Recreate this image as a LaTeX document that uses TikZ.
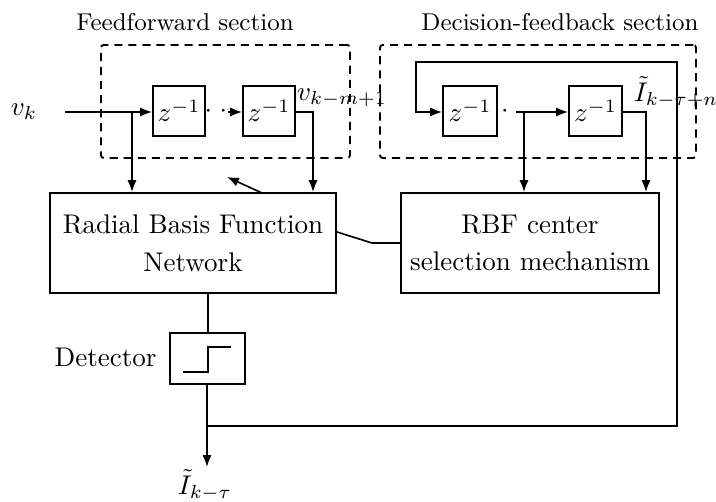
\documentclass[tikz,border=0pt]{standalone}
\usepackage{fontspec}
\usetikzlibrary{arrows.meta}
\newcommand\pxu{0.37pt}
\begin{document}
\begin{tikzpicture}[x=0.37pt,y=-0.37pt,
  blk/.style={draw,line width=0.7pt,inner sep=0pt,align=center},
  zbox/.style={blk,minimum width={52*\pxu},minimum height={50*\pxu}},
  sect/.style={draw,dashed,line width=0.7pt,dash pattern=on 3pt off 2.2pt,rounded corners=1pt,inner sep=0pt},
  conn/.style={line width=0.6pt},
  arr/.style={conn,-{Latex[length=4.4pt,width=3.4pt]}},
  lbl/.style={inner sep=0pt}]
\useasboundingbox (0,0) rectangle (716,502);
% titles
\node[lbl,font=\small] (t1) at (185,22) {Feedforward section};
\node[lbl,font=\small] (t2) at (560,22) {Decision-feedback section};
% dashed sections
\node[sect,minimum width={249*\pxu},minimum height={113*\pxu}] (ff) at (225.5,101.5) {};
\node[sect,minimum width={316*\pxu},minimum height={113*\pxu}] (df) at (538,101.5) {};
% delay boxes
\node[zbox] (z1) at (179,111) {$z^{-1}$};
\node[zbox] (z2) at (269,111) {$z^{-1}$};
\node[zbox,minimum width={54*\pxu}] (z3) at (470,111) {$z^{-1}$};
\node[zbox,minimum width={53*\pxu}] (z4) at (595.5,111) {$z^{-1}$};
% main blocks
\node[blk,minimum width={286*\pxu},minimum height={100*\pxu}] (rbf) at (193,243) {Radial Basis Function\\[2pt]Network};
\node[blk,minimum width={258*\pxu},minimum height={100*\pxu}] (sel) at (530,243) {RBF center\\[2pt]selection mechanism};
\node[blk,minimum width={75*\pxu},minimum height={51*\pxu}] (det) at (207.5,358.5) {};
\draw[conn] (183,372) -- (208,372) -- (208,347) -- (231,347);
\node[lbl,anchor=east] (detl) at (157,357) {Detector};
% labels
\node[lbl] (vk) at (24,112) {$v_k$};
\node[lbl] (vkm) at (342,98) {$v_{k-m+1}$};
\node[lbl] (ikn) at (676,92) {$\tilde{I}_{k-\tau+n}$};
\node[lbl] (ik) at (205,485) {$\tilde{I}_{k-\tau}$};
\node[lbl] (dots1) at (216,112) {$\cdot\;\cdot$};
\node[lbl] (dots2) at (505,112) {$\cdot$};
% coordinates
\coordinate (in) at (65,112);
\coordinate (b1) at (132,112);
\coordinate (d1) at (228,112);
\coordinate (o2) at (313,112);
\coordinate (m1) at (372,243);
\coordinate (dtop) at (208,333);
\coordinate (rb) at (208,293);
\coordinate (out) at (207,467);
\coordinate (fb0) at (207,426);
\coordinate (fb1) at (677,426);
\coordinate (fb2) at (677,62);
\coordinate (fb3) at (416,62);
\coordinate (fb4) at (416,112);
\coordinate (d2) at (516,112);
\coordinate (b2) at (524,112);
\coordinate (o4) at (646,112);
\coordinate (tA) at (262,193);
\coordinate (tB) at (227,177);
% connectors
\draw[arr] (in) -- (z1.west |- in);
\draw[arr] (b1) -- (b1 |- rbf.north);
\draw[arr] (d1) -- (z2.west |- d1);
\draw[arr] (z2.east |- o2) -- (o2) -- (o2 |- rbf.north);
\draw[arr] (tA) -- (tB);
\draw[conn] (rbf.east |- 0,232) -- (m1) -- (sel.west |- m1);
\draw[conn] (rb) -- (dtop);
\draw[arr] (det.south -| out) -- (out);
\draw[arr] (fb0) -- (fb1) -- (fb2) -- (fb3) -- (fb4) -- (z3.west |- fb4);
\draw[arr] (d2) -- (z4.west |- d2);
\draw[arr] (b2) -- (b2 |- sel.north);
\draw[arr] (z4.east |- o4) -- (o4) -- (o4 |- sel.north);
\end{tikzpicture}
\end{document}
